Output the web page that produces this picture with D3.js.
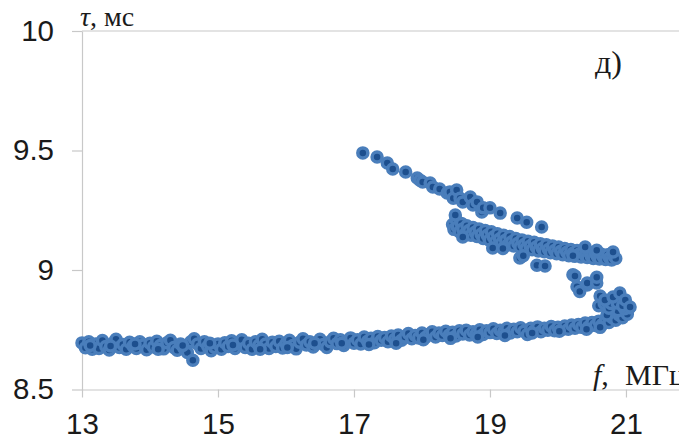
<!DOCTYPE html>
<html>
<head>
<meta charset="utf-8">
<script src="https://cdn.jsdelivr.net/npm/d3@7"></script>
<style>
  body { margin: 0; background: #fff; }
  svg { display: block; }
</style>
</head>
<body>
<script>
// tick values
const xTicks = [13, 15, 17, 19, 21];
const yTicks = [8.5, 9, 9.5, 10];

// lower branch: [f, tau]
const lowerBranch = [
  [13.00, 8.695], [13.05, 8.675], [13.10, 8.700], [13.15, 8.668], [13.20, 8.690], [13.25, 8.672],
  [13.30, 8.705], [13.35, 8.680], [13.40, 8.665], [13.45, 8.692], [13.50, 8.710], [13.55, 8.676],
  [13.60, 8.688], [13.65, 8.668], [13.70, 8.698], [13.75, 8.682], [13.80, 8.672], [13.85, 8.700],
  [13.90, 8.686], [13.95, 8.666], [14.00, 8.694], [14.05, 8.678], [14.10, 8.702], [14.15, 8.684],
  [14.20, 8.670], [14.25, 8.696], [14.30, 8.706], [14.35, 8.676], [14.40, 8.664], [14.45, 8.690],
  [14.50, 8.672], [14.55, 8.655], [14.60, 8.700], [14.63, 8.622], [14.65, 8.712], [14.70, 8.690],
  [14.75, 8.672], [14.80, 8.700], [14.85, 8.680], [14.90, 8.662], [14.95, 8.676], [15.00, 8.690],
  [15.05, 8.668], [15.10, 8.696], [15.15, 8.680], [15.20, 8.704], [15.25, 8.672], [15.30, 8.690],
  [15.35, 8.708], [15.40, 8.676], [15.45, 8.694], [15.50, 8.668], [15.55, 8.700], [15.60, 8.684],
  [15.65, 8.710], [15.70, 8.690], [15.75, 8.672], [15.80, 8.698], [15.85, 8.680], [15.90, 8.702],
  [15.95, 8.674], [16.00, 8.692], [16.05, 8.706], [16.10, 8.684], [16.15, 8.670], [16.20, 8.698],
  [16.25, 8.712], [16.30, 8.686], [16.35, 8.700], [16.40, 8.678], [16.45, 8.694], [16.50, 8.710],
  [16.55, 8.688], [16.60, 8.676], [16.65, 8.700], [16.70, 8.714], [16.75, 8.692], [16.80, 8.708],
  [16.85, 8.684], [16.90, 8.700], [16.95, 8.716], [17.00, 8.694], [17.05, 8.708], [17.10, 8.690],
  [17.15, 8.720], [17.20, 8.702], [17.25, 8.714], [17.30, 8.696], [17.35, 8.722], [17.40, 8.706],
  [17.45, 8.718], [17.50, 8.700], [17.55, 8.724], [17.60, 8.710], [17.65, 8.728], [17.70, 8.706],
  [17.75, 8.720], [17.80, 8.734], [17.85, 8.712], [17.90, 8.726], [17.95, 8.716], [18.00, 8.736],
  [18.05, 8.718], [18.10, 8.730], [18.15, 8.742], [18.20, 8.720], [18.25, 8.736], [18.30, 8.726],
  [18.35, 8.744], [18.40, 8.728], [18.45, 8.740], [18.50, 8.724], [18.55, 8.746], [18.60, 8.732],
  [18.65, 8.748], [18.70, 8.728], [18.75, 8.742], [18.80, 8.734], [18.85, 8.750], [18.90, 8.730],
  [18.95, 8.746], [19.00, 8.738], [19.05, 8.754], [19.10, 8.734], [19.15, 8.748], [19.20, 8.740],
  [19.25, 8.756], [19.30, 8.736], [19.35, 8.752], [19.40, 8.742], [19.45, 8.758], [19.50, 8.744],
  [19.55, 8.730], [19.60, 8.756], [19.65, 8.746], [19.70, 8.762], [19.75, 8.742], [19.80, 8.756],
  [19.85, 8.748], [19.90, 8.764], [19.95, 8.746], [20.00, 8.760], [20.05, 8.750], [20.10, 8.766],
  [20.15, 8.752], [20.20, 8.770], [20.25, 8.756], [20.30, 8.772], [20.35, 8.760], [20.40, 8.778],
  [20.45, 8.762], [20.50, 8.780], [20.55, 8.768], [20.60, 8.786], [20.65, 8.772], [20.70, 8.792],
  [20.75, 8.780], [20.80, 8.800], [20.85, 8.790], [20.90, 8.812], [20.95, 8.800], [21.00, 8.824],
  [21.02, 8.815], [21.05, 8.842], [20.72, 8.812], [20.88, 8.830], [20.98, 8.838],
  [13.12, 8.684], [13.42, 8.682], [13.78, 8.690], [14.12, 8.668], [14.48, 8.684], [14.88, 8.694],
  [15.22, 8.686], [15.62, 8.668], [16.02, 8.676], [16.42, 8.694], [16.82, 8.694], [17.22, 8.688],
  [17.62, 8.694], [18.02, 8.708], [18.42, 8.714], [18.82, 8.720], [19.22, 8.726], [19.62, 8.736],
  [20.02, 8.744], [20.42, 8.752], [20.62, 8.760]
];

// rise from lower branch towards the middle band
const hookBranch = [
  [20.60, 8.850], [20.68, 8.860], [20.75, 8.840], [20.78, 8.860], [20.87, 8.862], [20.95, 8.850],
  [20.62, 8.891], [20.69, 8.875], [20.81, 8.887], [20.91, 8.904], [20.99, 8.875], [21.06, 8.845],
  [20.28, 8.930], [20.32, 8.910], [20.43, 8.937], [20.43, 8.946], [20.57, 8.946], [20.57, 8.970],
  [20.22, 8.980], [20.25, 8.975]
];

// middle band
const middleBranch = [
  [18.45, 9.190], [18.47, 9.170], [18.50, 9.210], [18.52, 9.180], [18.55, 9.160], [18.58, 9.195],
  [18.60, 9.172], [18.63, 9.150], [18.66, 9.185], [18.69, 9.165], [18.72, 9.145], [18.75, 9.178],
  [18.78, 9.158], [18.81, 9.140], [18.84, 9.172], [18.87, 9.150], [18.90, 9.132], [18.93, 9.165],
  [18.96, 9.145], [18.99, 9.125], [19.02, 9.160], [19.05, 9.138], [19.08, 9.118], [19.11, 9.152],
  [19.14, 9.130], [19.17, 9.112], [19.20, 9.145], [19.23, 9.125], [19.26, 9.105], [19.29, 9.140],
  [19.32, 9.118], [19.35, 9.100], [19.38, 9.132], [19.41, 9.112], [19.44, 9.095], [19.47, 9.126],
  [19.50, 9.106], [19.53, 9.090], [19.56, 9.120], [19.59, 9.100], [19.62, 9.085], [19.65, 9.116],
  [19.68, 9.096], [19.71, 9.080], [19.74, 9.110], [19.77, 9.090], [19.80, 9.076], [19.83, 9.106],
  [19.86, 9.086], [19.89, 9.072], [19.92, 9.100], [19.95, 9.082], [19.98, 9.068], [20.01, 9.096],
  [20.04, 9.078], [20.07, 9.064], [20.10, 9.090], [20.13, 9.074], [20.16, 9.060], [20.19, 9.086],
  [20.22, 9.070], [20.25, 9.058], [20.28, 9.082], [20.31, 9.066], [20.34, 9.054], [20.37, 9.078],
  [20.40, 9.062], [20.43, 9.052], [20.46, 9.074], [20.49, 9.058], [20.52, 9.048], [20.55, 9.070],
  [20.58, 9.055], [20.61, 9.046], [20.64, 9.066], [20.67, 9.052], [20.70, 9.044], [20.73, 9.064],
  [20.76, 9.050], [20.79, 9.042], [20.82, 9.060], [20.85, 9.048],
  [18.60, 9.138], [19.04, 9.092], [19.19, 9.090], [19.44, 9.050], [19.49, 9.060], [19.69, 9.020],
  [19.81, 9.017], [20.22, 9.060], [20.40, 9.096], [20.57, 9.083], [20.81, 9.075], [18.49, 9.230]
];

// upper branch
const upperBranch = [
  [17.13, 9.490], [17.34, 9.473], [17.49, 9.448], [17.57, 9.423], [17.76, 9.410], [17.93, 9.385],
  [17.97, 9.376], [18.01, 9.368], [18.12, 9.364], [18.16, 9.347], [18.26, 9.339], [18.37, 9.322],
  [18.41, 9.326], [18.46, 9.300], [18.51, 9.335], [18.56, 9.300], [18.60, 9.285], [18.71, 9.305],
  [18.75, 9.272], [18.81, 9.285], [18.88, 9.243], [18.90, 9.260], [19.00, 9.260], [19.15, 9.238],
  [19.40, 9.218], [19.54, 9.200], [19.76, 9.180]
];

const width = 679, height = 440;
const x = d3.scaleLinear().domain([13, 21.78]).range([82, 679]);
const y = d3.scaleLinear().domain([8.5, 10]).range([389.5, 31]);

const svg = d3.select("body").append("svg")
  .attr("width", width)
  .attr("height", height);

// top border line at 10
svg.append("line")
  .attr("x1", 82).attr("x2", width)
  .attr("y1", y(10)).attr("y2", y(10))
  .attr("stroke", "#c8c8c8").attr("stroke-width", 1.2);

// x axis
const xAxis = svg.append("g")
  .attr("transform", "translate(0," + y(8.5) + ")")
  .call(d3.axisBottom(x).tickValues(xTicks).tickSize(8).tickSizeOuter(0).tickPadding(16));

// y axis
const yAxis = svg.append("g")
  .attr("transform", "translate(" + x(13) + ",0)")
  .call(d3.axisLeft(y).tickValues(yTicks).tickSize(10).tickSizeOuter(0).tickPadding(18)
    .tickFormat(d => String(d)));

[xAxis, yAxis].forEach(g => {
  g.select(".domain").attr("stroke", "#c8c8c8").attr("stroke-width", 1.2);
  g.selectAll(".tick line").attr("stroke", "#c8c8c8").attr("stroke-width", 1.2);
  g.selectAll(".tick text")
    .attr("fill", "#1a1a1a")
    .style("font-family", "'Liberation Sans', Arial, sans-serif")
    .style("font-size", "29.5px");
});

// points
const allPoints = [].concat(lowerBranch, hookBranch, middleBranch, upperBranch);
svg.append("g")
  .selectAll("circle")
  .data(allPoints)
  .enter().append("circle")
  .attr("cx", d => x(d[0]))
  .attr("cy", d => y(d[1]))
  .attr("r", 5)
  .attr("fill", "#1d4f8e")
  .attr("stroke", "#4a7ebb")
  .attr("stroke-width", 3.5);

// axis titles
const serif = "'Liberation Serif', 'Times New Roman', serif";
const yTitle = svg.append("text")
  .attr("x", 80).attr("y", 26)
  .attr("fill", "#1a1a1a")
  .style("font-family", serif)
  .style("font-size", "28px");
yTitle.append("tspan").style("font-style", "italic").text("τ");
yTitle.append("tspan").text(", мс");

const xTitle = svg.append("text")
  .attr("x", 593).attr("y", 385)
  .attr("fill", "#1a1a1a")
  .style("font-family", serif)
  .style("font-size", "30px");
xTitle.append("tspan").style("font-style", "italic").text("f");
xTitle.append("tspan").text(",");
xTitle.append("tspan").attr("x", 625).text("МГц");

svg.append("text")
  .attr("x", 595).attr("y", 73)
  .attr("fill", "#1a1a1a")
  .style("font-family", serif)
  .style("font-size", "32px")
  .text("д)");
</script>
</body>
</html>
